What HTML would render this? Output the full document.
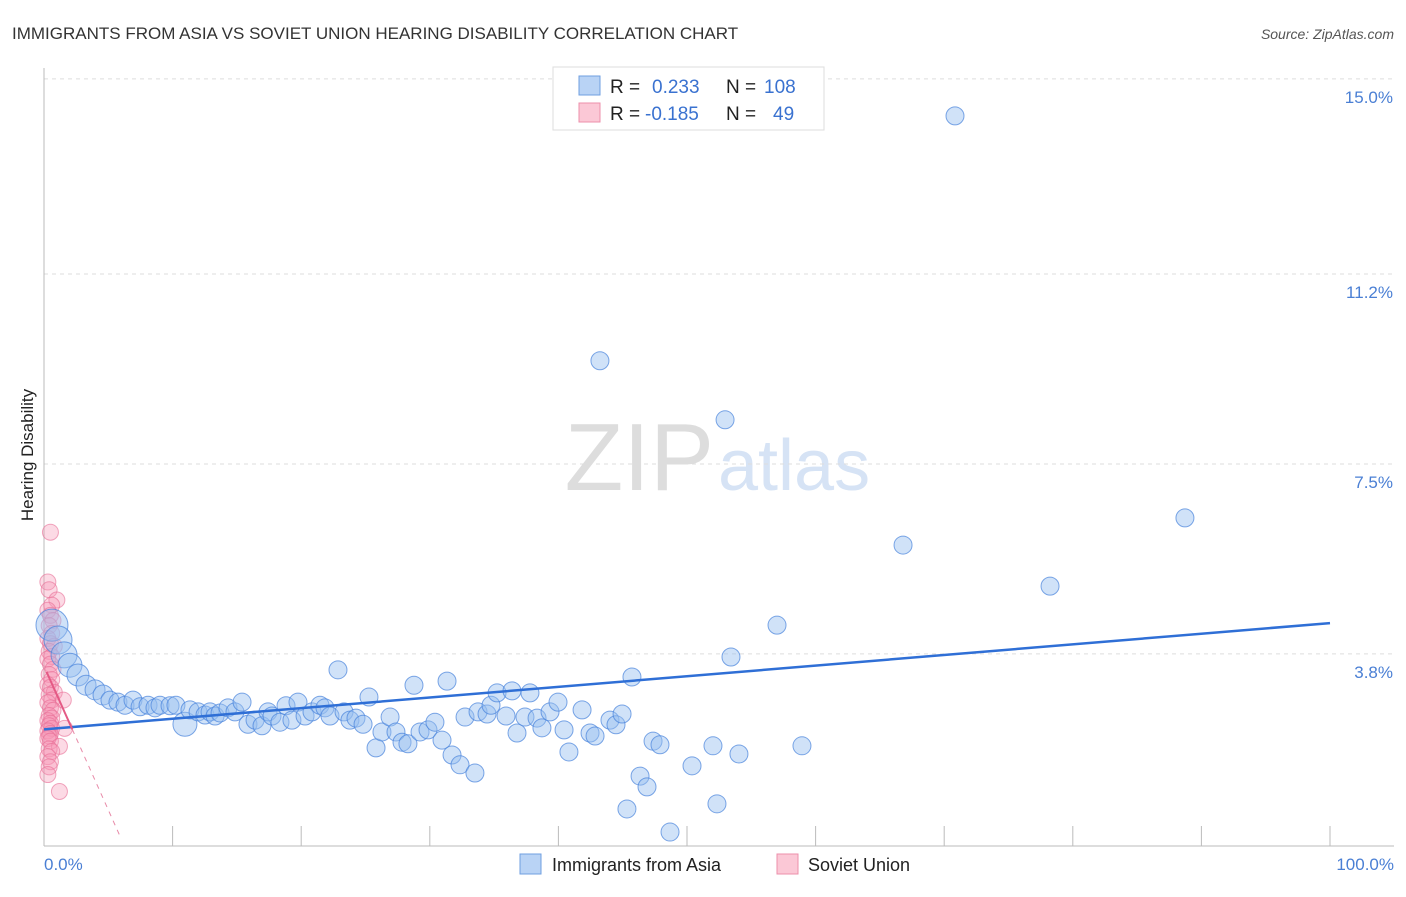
<!DOCTYPE html>
<html><head><meta charset="utf-8"><style>
body{margin:0;background:#fff;font-family:"Liberation Sans",sans-serif;}
svg text{font-family:"Liberation Sans",sans-serif;}
</style></head><body>
<svg id="c" width="1406" height="892">
<text x="12" y="39" font-size="17" fill="#333">IMMIGRANTS FROM ASIA VS SOVIET UNION HEARING DISABILITY CORRELATION CHART</text>
<text x="1394" y="39" font-size="14" fill="#555" font-style="italic" text-anchor="end">Source: ZipAtlas.com</text>
<text x="714" y="490" font-size="96" fill="#ddd" text-anchor="end" font-family="Liberation Serif">ZIP</text>
<text x="718" y="490" font-size="72" fill="#d6e3f5">atlas</text>
<g id="grid"></g>
<line x1="44" y1="68" x2="44" y2="846" stroke="#bbb"/>
<line x1="44" y1="846" x2="1394" y2="846" stroke="#bbb"/>
<text x="33" y="455" font-size="17" fill="#222" text-anchor="middle" transform="rotate(-90 33 455)">Hearing Disability</text>
<text x="44" y="870" font-size="17" fill="#4a7fd4">0.0%</text>
<text x="1394" y="870" font-size="17" fill="#4a7fd4" text-anchor="end">100.0%</text>
<g id="pts"></g>
<g id="lines"></g>
<g>
<rect x="553" y="67" width="271" height="63" fill="#fff" stroke="#ddd"/>
<rect x="579" y="76" width="21" height="19" fill="#b9d3f5" stroke="#6f9fe0"/>
<rect x="579" y="103" width="21" height="19" fill="#fbc8d6" stroke="#ec8fab"/>
<text x="610" y="93" font-size="19" fill="#222">R = </text><text x="652" y="93" font-size="19" fill="#3a72d0">0.233</text>
<text x="726" y="93" font-size="19" fill="#222">N = </text><text x="764" y="93" font-size="19" fill="#3a72d0">108</text>
<text x="610" y="120" font-size="19" fill="#222">R = </text><text x="645" y="120" font-size="19" fill="#3a72d0">-0.185</text>
<text x="726" y="120" font-size="19" fill="#222">N = </text><text x="773" y="120" font-size="19" fill="#3a72d0">49</text>
</g>
<g>
<rect x="520" y="854" width="21" height="20" fill="#b9d3f5" stroke="#6f9fe0"/>
<text x="552" y="871" font-size="18" fill="#222">Immigrants from Asia</text>
<rect x="777" y="854" width="21" height="20" fill="#fbc8d6" stroke="#ec8fab"/>
<text x="808" y="871" font-size="18" fill="#222">Soviet Union</text>
</g>
</svg>
<script>
const yTicks=[15.0,11.2,7.5,3.8];
const yTickLabels=["15.0%","11.2%","7.5%","3.8%"];
const blueX=[0.62,1.09,1.56,2.02,2.64,3.27,3.97,4.59,5.13,5.75,6.30,6.92,7.47,8.09,8.63,9.02,9.80,10.26,10.96,11.35,11.98,12.52,12.91,13.30,13.69,14.31,14.85,15.40,15.86,16.41,16.95,17.42,17.73,18.35,18.82,19.28,19.75,20.30,20.84,21.46,21.85,22.24,22.86,23.33,23.79,24.26,24.81,25.27,25.82,26.28,26.91,27.37,27.84,28.30,28.77,29.24,29.86,30.40,30.95,31.34,31.73,32.35,32.74,33.51,33.75,34.45,34.76,35.23,35.93,36.39,36.78,37.40,37.79,38.34,38.72,39.35,39.97,40.44,40.82,41.84,42.46,42.85,43.23,44.01,44.48,44.95,45.33,45.72,46.35,46.89,47.36,47.90,48.68,50.39,52.02,52.33,52.96,53.42,54.04,57.00,58.94,66.80,70.84,78.23,88.72];
const blueY=[4.36,4.07,3.78,3.58,3.39,3.19,3.10,3.00,2.90,2.86,2.80,2.90,2.77,2.80,2.75,2.80,2.79,2.80,2.43,2.71,2.67,2.61,2.67,2.59,2.65,2.75,2.67,2.86,2.43,2.51,2.40,2.67,2.59,2.47,2.79,2.51,2.86,2.59,2.67,2.80,2.75,2.59,3.49,2.67,2.51,2.55,2.43,2.96,1.97,2.28,2.57,2.28,2.08,2.05,3.19,2.28,2.32,2.47,2.12,3.27,1.83,1.64,2.57,1.48,2.67,2.63,2.80,3.04,2.59,3.08,2.26,2.57,3.04,2.55,2.36,2.67,2.86,2.32,1.89,2.71,2.26,2.20,9.51,2.51,2.42,2.63,0.78,3.35,1.42,1.21,2.10,2.03,0.33,1.62,2.01,0.88,8.36,3.74,1.85,4.36,2.01,5.92,14.28,5.12,6.45];
const blueR=[16,14,13,12,11,10,10,10,9,9,9,9,9,9,9,9,9,9,12];
const pinkX=[0.5,0.3,0.4,1.0,0.6,0.3,0.5,0.7,0.4,0.6,0.3,0.5,0.8,0.4,0.6,0.3,0.5,0.7,0.4,0.6,0.3,0.5,0.8,0.4,0.6,0.3,1.5,0.5,0.7,0.4,0.6,0.3,0.5,0.4,0.6,0.3,0.5,0.4,0.3,0.5,1.2,0.4,0.6,0.3,0.5,0.4,1.6,0.3,1.2];
const pinkY=[6.17,5.2,5.05,4.85,4.75,4.65,4.55,4.45,4.35,4.2,4.1,4.0,3.95,3.85,3.75,3.7,3.6,3.5,3.4,3.3,3.2,3.15,3.05,3.0,2.9,2.85,2.9,2.75,2.7,2.6,2.55,2.5,2.45,2.4,2.35,2.3,2.25,2.2,2.15,2.1,2.0,1.95,1.9,1.8,1.7,1.6,2.35,1.45,1.12];
const NS="http://www.w3.org/2000/svg";
const X=v=>44+v*12.86, Y=v=>849-v*51.34;
const grid=document.getElementById('grid');
yTicks.forEach((t,i)=>{
 const l=document.createElementNS(NS,'line');
 l.setAttribute('x1',44);l.setAttribute('x2',1394);l.setAttribute('y1',Y(t));l.setAttribute('y2',Y(t));
 l.setAttribute('stroke','#ddd');l.setAttribute('stroke-dasharray','4,4');
 
 
 grid.appendChild(l);
 const tx=document.createElementNS(NS,'text');
 tx.setAttribute('x',1393);tx.setAttribute('y',Y(t)+24);tx.setAttribute('text-anchor','end');
 tx.setAttribute('font-size','17');tx.setAttribute('fill','#4a7fd4');tx.textContent=yTickLabels[i];
 
 
 grid.appendChild(tx);
});
for(let i=1;i<=10;i++){
 const l=document.createElementNS(NS,'line');
 l.setAttribute('x1',X(i*10));l.setAttribute('x2',X(i*10));l.setAttribute('y1',826);l.setAttribute('y2',846);
 l.setAttribute('stroke','#bbb');
 
 
 grid.appendChild(l);
}
const pts=document.getElementById('pts');
pinkX.forEach((x,i)=>{
 const c=document.createElementNS(NS,'circle');
 c.setAttribute('cx',X(x));c.setAttribute('cy',Y(pinkY[i]));c.setAttribute('r',8);
 c.setAttribute('fill','rgba(245,150,180,0.35)');c.setAttribute('stroke','rgba(232,110,150,0.6)');
 
 
 pts.appendChild(c);
});
blueX.forEach((x,i)=>{
 const c=document.createElementNS(NS,'circle');
 c.setAttribute('cx',X(x));c.setAttribute('cy',Y(blueY[i]));c.setAttribute('r',blueR[i]||9);
 c.setAttribute('fill','rgba(150,190,240,0.45)');c.setAttribute('stroke','rgba(70,130,220,0.7)');
 
 
 pts.appendChild(c);
});
const lines=document.getElementById('lines');
function ln(x1,y1,x2,y2,col,w,dash,name){
 const l=document.createElementNS(NS,'line');
 l.setAttribute('x1',X(x1));l.setAttribute('y1',Y(y1));l.setAttribute('x2',X(x2));l.setAttribute('y2',Y(y2));
 l.setAttribute('stroke',col);l.setAttribute('stroke-width',w);if(dash)l.setAttribute('stroke-dasharray',dash);
 
 
 lines.appendChild(l);
}
ln(0,2.33,100,4.4,'#2f6fd6',2.5,null,'asia-trend-line');
ln(0.2,3.45,2.2,2.33,'#e45a85',2,null,'soviet-trend-line');
ln(2.2,2.33,6,0.2,'#e88aa8',1,'5,5','soviet-trend-extension');
</script>
</body></html>
